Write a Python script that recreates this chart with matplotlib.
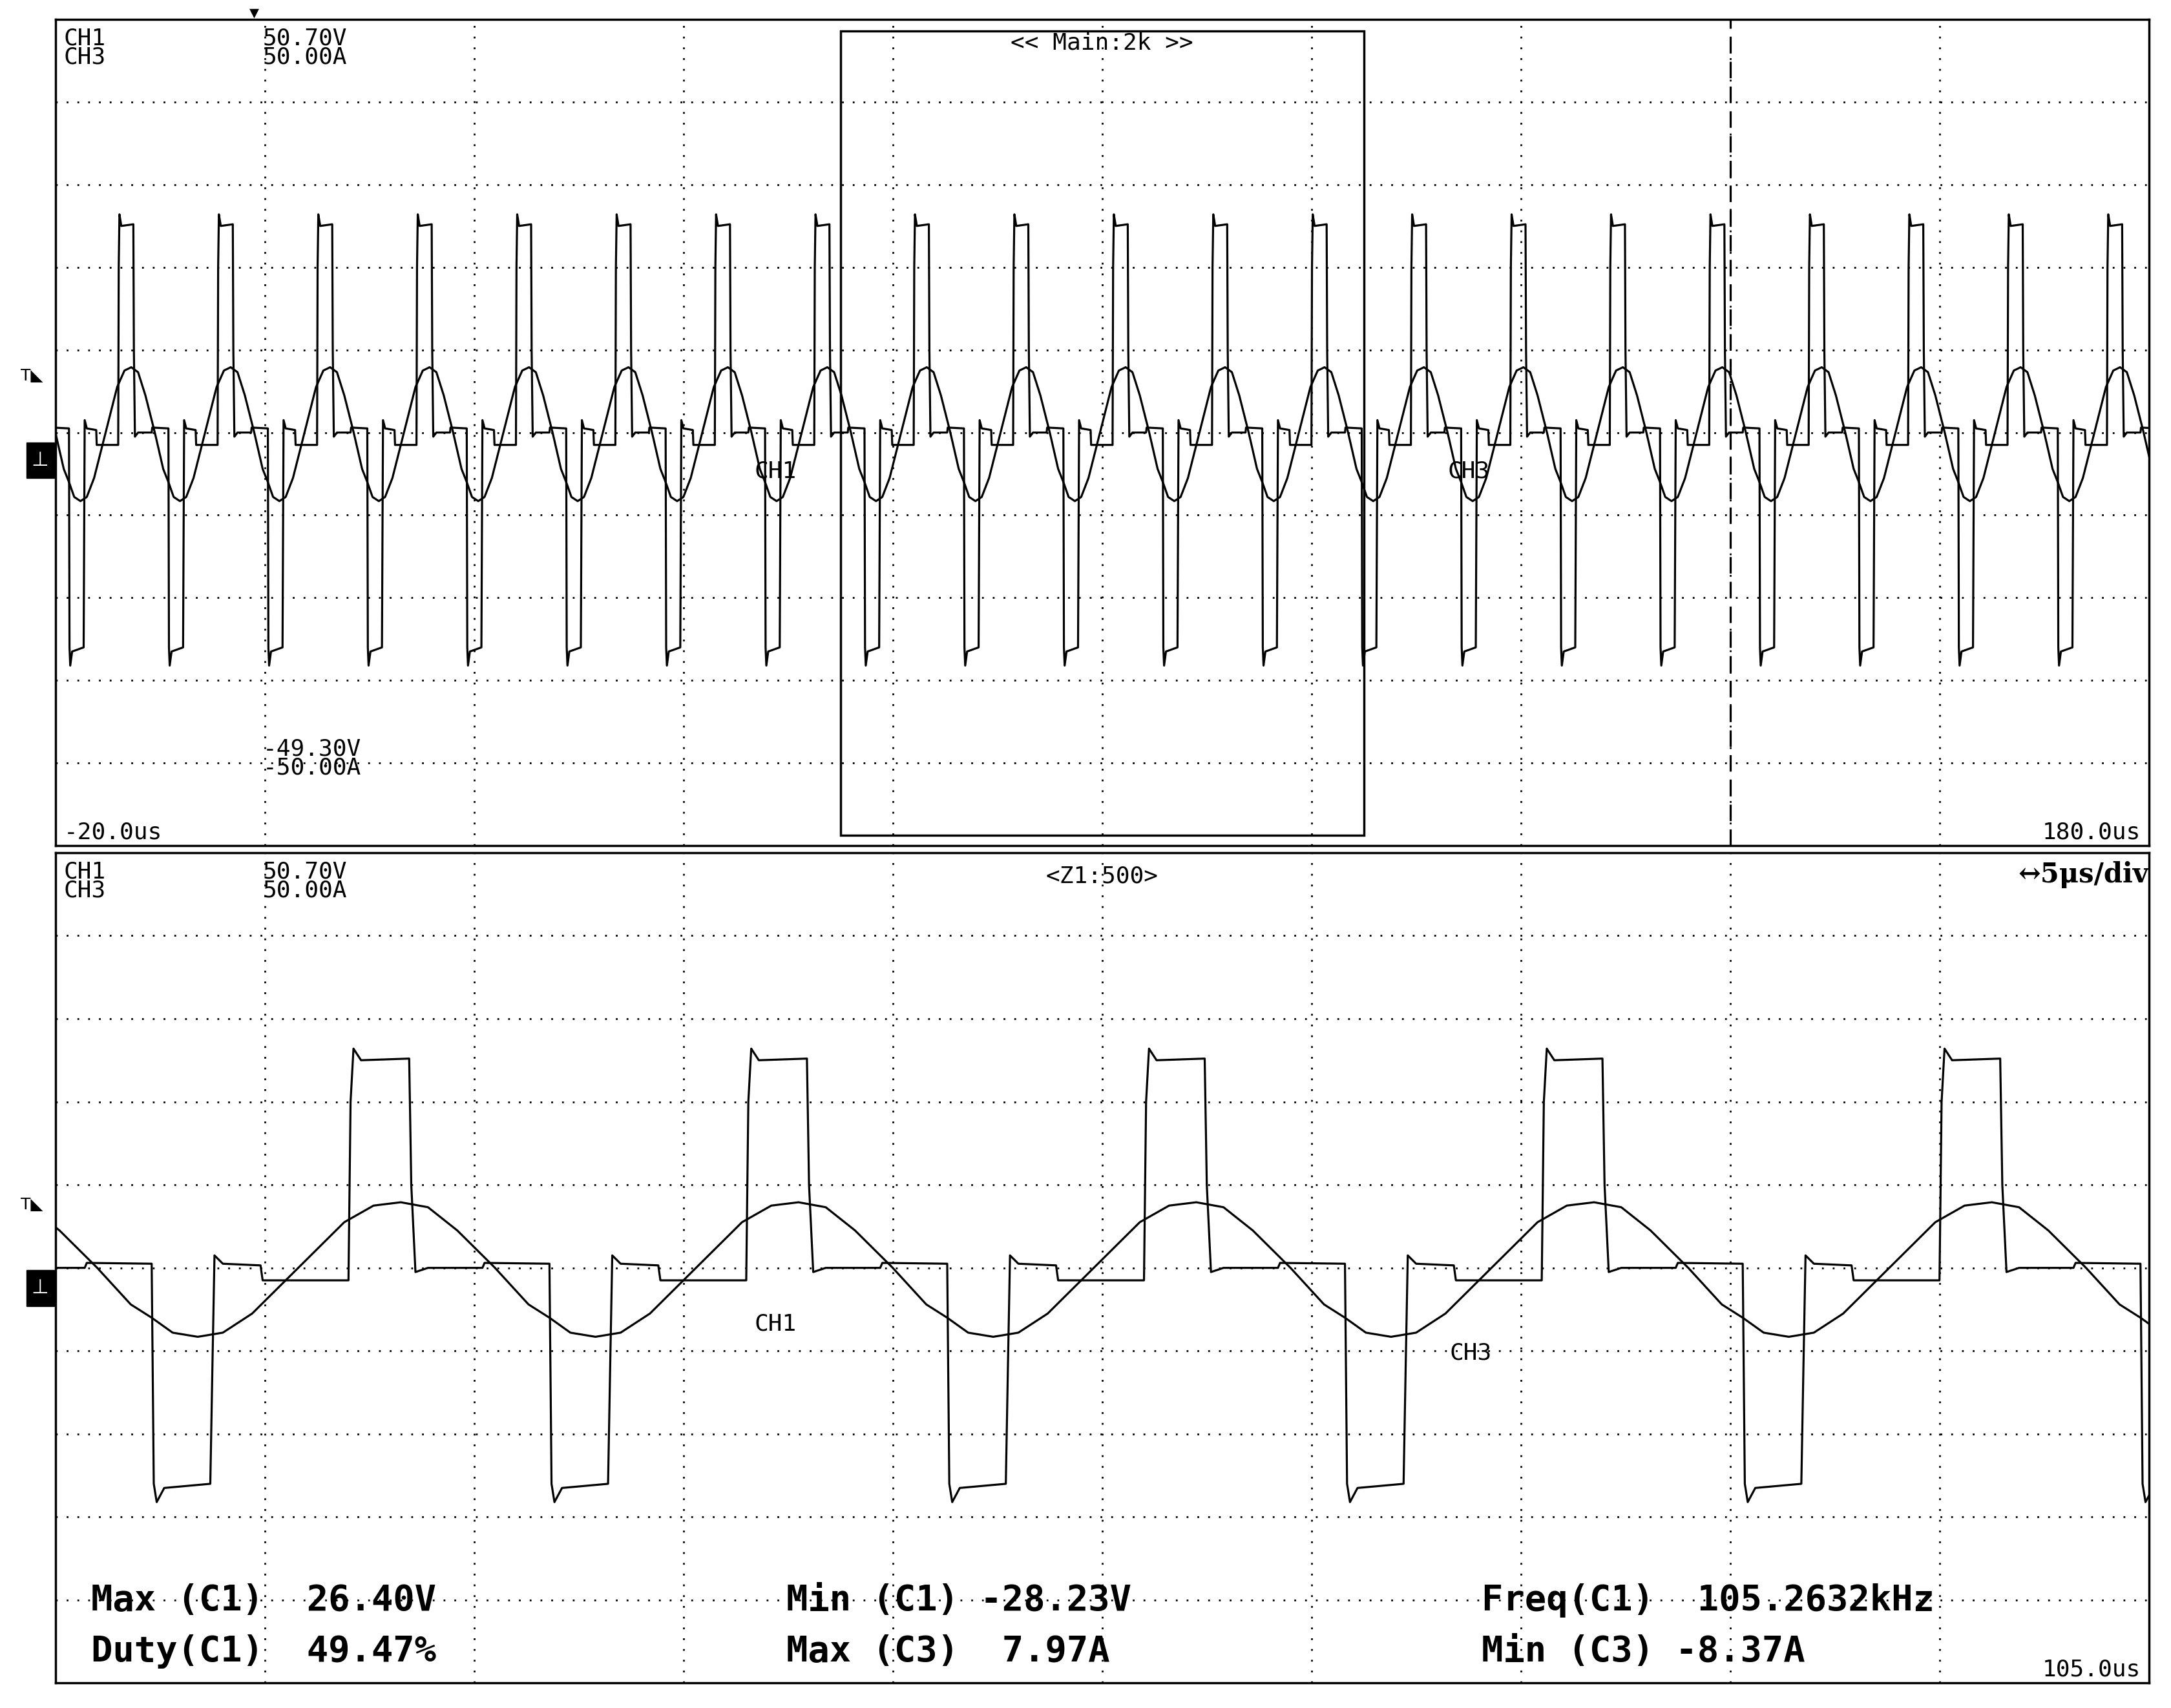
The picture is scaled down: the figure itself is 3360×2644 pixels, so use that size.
import numpy as np
import matplotlib
import matplotlib.pyplot as plt

matplotlib.use('agg')

# one switching period, phase in us measured from the falling edge of the negative pulse
period_us = 9.5
first_edge_us = -18.7
ch1_phase = [0.0, 0.05, 0.12, 0.3, 1.4, 1.45, 1.5, 1.7, 2.6, 2.65, 4.7, 4.75, 4.82, 5.0, 6.15, 6.2, 6.3, 6.6, 7.9, 7.95, 9.5]
ch1_volts = [0.5, -26.0, -28.2, -26.5, -26.0, -12.0, 1.5, 0.5, 0.3, -1.5, -1.5, 20.0, 26.4, 25.0, 25.2, 10.0, -0.5, 0.0, 0.0, 0.6, 0.5]
ch3_phase = [0.0, 0.5, 1.1, 1.7, 2.4, 3.5, 4.6, 5.3, 5.95, 6.6, 7.3, 8.2, 9.0, 9.5]
ch3_amps = [-6.0, -7.8, -8.3, -7.8, -5.5, 0.0, 5.5, 7.5, 7.9, 7.3, 4.5, 0.0, -4.4, -6.0]

volts_per_div = 10.0
amps_per_div = 10.0
main_window = (-20.0, 180.0)
zoom_window = (55.0, 105.0)
cursor_us = 140.0

measure_rows = [
    ["Max (C1)  26.40V", "Min (C1) -28.23V", "Freq(C1)  105.2632kHz"],
    ["Duty(C1)  49.47%", "Max (C3)  7.97A", "Min (C3) -8.37A"],
]

W, H = 1568.0, 1236.0
fig = plt.figure(figsize=(33.6, 26.44), dpi=100)
MONO = 'DejaVu Sans Mono'


def tiled(phase, vals, n_from=-3, n_to=25):
    t, v = [], []
    for k in range(n_from, n_to):
        t.extend(first_edge_us + k * period_us + np.array(phase))
        v.extend(vals)
    return np.array(t), np.array(v)


def panel(top_px, bot_px, window):
    ax = fig.add_axes([40 / W, 1 - bot_px / H, 1512 / W, (bot_px - top_px) / H])
    ax.set_xlim(*window)
    ax.set_ylim(-5, 5)
    ax.set_xticks([])
    ax.set_yticks([])
    for sp in ax.spines.values():
        sp.set_linewidth(2.5)
    span = window[1] - window[0]
    for i in range(1, 10):
        ax.axvline(window[0] + span * i / 10, color='k', lw=2, ls=(0, (1, 5)))
        ax.axhline(-5 + i, color='k', lw=2, ls=(0, (1, 5)))
    t1, v1 = tiled(ch1_phase, ch1_volts)
    t3, v3 = tiled(ch3_phase, ch3_amps)
    ax.plot(t1, v1 / volts_per_div, color='k', lw=2.3)
    ax.plot(t3, v3 / amps_per_div, color='k', lw=2.3)
    return ax


small = dict(family=MONO, fontsize=26, color='k', va='top', linespacing=0.8)

# main view
ax1 = panel(14, 612, main_window)
ax1.add_patch(plt.Rectangle((zoom_window[0], -4.87), zoom_window[1] - zoom_window[0], 9.73,
                            fill=False, lw=2.5, color='k'))
ax1.axvline(cursor_us, color='k', lw=2.3, ls=(0, (8, 4)))
ax1.text(0.004, 0.99, "CH1\nCH3", transform=ax1.transAxes, **small)
ax1.text(0.099, 0.99, "50.70V\n50.00A", transform=ax1.transAxes, **small)
ax1.text(0.099, 0.13, "-49.30V\n-50.00A", transform=ax1.transAxes, **small)
ax1.text(0.004, 0.003, "-20.0us", transform=ax1.transAxes, family=MONO, fontsize=26, va='bottom')
ax1.text(0.996, 0.003, "180.0us", transform=ax1.transAxes, family=MONO, fontsize=26, va='bottom', ha='right')
ax1.text(80.0, 4.85, "<< Main:2k >>", family=MONO, fontsize=26, ha='center', va='top')
ax1.text(48.8, -0.55, "CH1", family=MONO, fontsize=26, ha='center')
ax1.text(115.0, -0.55, "CH3", family=MONO, fontsize=26, ha='center')
ax1.text(-1.0, 5.15, "▼", fontsize=14, ha='center', va='top')

# zoomed view
ax2 = panel(617, 1218, zoom_window)
ax2.text(0.004, 0.99, "CH1\nCH3", transform=ax2.transAxes, **small)
ax2.text(0.099, 0.99, "50.70V\n50.00A", transform=ax2.transAxes, **small)
ax2.text(80.0, 4.85, "<Z1:500>", family=MONO, fontsize=26, ha='center', va='top')
ax2.text(1.0, 0.99, "↔5μs/div", transform=ax2.transAxes, family='DejaVu Serif',
         fontsize=30, ha='right', va='top', fontweight='bold')
ax2.text(72.2, -0.75, "CH1", family=MONO, fontsize=26, ha='center')
ax2.text(88.8, -1.1, "CH3", family=MONO, fontsize=26, ha='center')
ax2.text(0.996, 0.003, "105.0us", transform=ax2.transAxes, family=MONO, fontsize=26, va='bottom', ha='right')
col_x = [66, 568, 1070]
row_y = [1158, 1195]
for r, row in enumerate(measure_rows):
    for c, txt in enumerate(row):
        fig.text(col_x[c] / W, 1 - row_y[r] / H, txt, family=MONO, fontsize=40,
                 fontweight='bold', va='center', ha='left')

# trigger and ground markers on the left edge
for y_trig, y_gnd in [(272, 333), (872, 932)]:
    fig.text(15 / W, 1 - y_trig / H, "T◣", fontsize=18, va='center', family='DejaVu Sans')
    fig.patches.append(plt.Rectangle((19 / W, 1 - (y_gnd + 13) / H), 20 / W, 26 / H,
                                     transform=fig.transFigure, facecolor='k', edgecolor='k'))
    fig.text(29 / W, 1 - y_gnd / H, "⊥", fontsize=22, va='center', ha='center', color='white',
             family='DejaVu Sans')

fig.savefig('out.png', dpi=100, facecolor='white')
